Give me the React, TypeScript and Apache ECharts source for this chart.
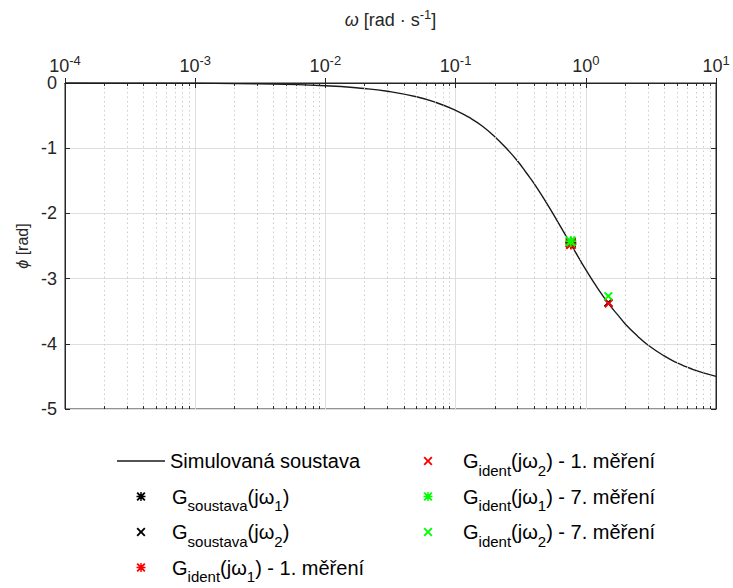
import React, { useEffect, useRef } from "react";
import * as echarts from "echarts";

// ---- data ----
const omega = [1e-4, 3e-4, 1e-3, 3e-3, 0.01, 0.02, 0.03, 0.05, 0.07, 0.1, 0.13, 0.16, 0.2, 0.25, 0.3, 0.35, 0.4, 0.5, 0.6, 0.7, 0.8, 0.9, 1.0, 1.2, 1.5, 1.8, 2.0, 2.5, 3.0, 4.0, 5.0, 6.0, 7.0, 8.0, 10.0];
const phase = [-0.0004, -0.0013, -0.0042, -0.0127, -0.042, -0.085, -0.127, -0.211, -0.295, -0.42, -0.54, -0.66, -0.825, -1.02, -1.2, -1.38, -1.54, -1.842, -2.107, -2.336, -2.535, -2.71, -2.862, -3.112, -3.388, -3.58, -3.691, -3.883, -4.018, -4.186, -4.29, -4.359, -4.409, -4.447, -4.5];

const sysW1 = [[0.766, -2.45]];
const sysW2 = [[1.49, -3.37]];
const ident1W1 = [[0.768, -2.47]];
const ident1W2 = [[1.5, -3.38]];
const ident7W1 = [[0.766, -2.43]];
const ident7W2 = [[1.49, -3.27]];

const seriesNames = [
  "Simulovaná soustava",
  "G_soustava(jω1)",
  "G_soustava(jω2)",
  "G_ident(jω1) - 1. měření",
  "G_ident(jω2) - 1. měření",
  "G_ident(jω1) - 7. měření",
  "G_ident(jω2) - 7. měření",
];

const minorMult = [2, 3, 4, 5, 6, 7, 8, 9];
const decades = [-4, -3, -2, -1, 0];

const X_PATH = "path://M0,1.5 L1.5,0 L5,3.5 L8.5,0 L10,1.5 L6.5,5 L10,8.5 L8.5,10 L5,6.5 L1.5,10 L0,8.5 L3.5,5 Z";
const STAR_PATH =
  "path://M0,1.5 L1.5,0 L5,3.5 L8.5,0 L10,1.5 L6.5,5 L10,8.5 L8.5,10 L5,6.5 L1.5,10 L0,8.5 L3.5,5 Z M4.2,0 L5.8,0 L5.8,10 L4.2,10 Z M0,4.2 L10,4.2 L10,5.8 L0,5.8 Z";

const FONT = "'Liberation Sans', Arial, Helvetica, sans-serif";
const LEG_FS = 20;
const SUB_FS = 15;

const richLegend = (gap: number) => ({
  gap: { width: gap, height: 1 },
  m: { fontSize: LEG_FS, lineHeight: 22, fontFamily: FONT, color: "#000", verticalAlign: "middle" },
  s: { fontSize: SUB_FS, lineHeight: 15, fontFamily: FONT, color: "#000", padding: [18.5, 0, 0, 0], verticalAlign: "middle" },
});

const legendText = (name: string): string => {
  const m = name.match(/^G_(\w+)\(jω(\d)\)(.*)$/);
  if (!m) return name;
  return `{gap|}{m|G}{s|${m[1]}}{m|(jω}{s|${m[2]}}{m|)${m[3]}}`;
};

export default function App() {
  const ref = useRef<HTMLDivElement>(null);
  useEffect(() => {
    if (!ref.current) return;
    const chart = echarts.init(ref.current, undefined, { renderer: "svg" });

    const minorVals: number[] = [];
    decades.forEach((d) => minorMult.forEach((k) => minorVals.push(k * Math.pow(10, d))));
    const tickLen = 0.045;
    const gridStyle = { color: "#cccccc", type: [1.5, 3], width: 1 };
    const tickStyle = { color: "#262626", type: "solid", width: 1 };
    const markData: any[] = [];
    minorVals.forEach((v) => {
      markData.push([{ coord: [v, 0], lineStyle: gridStyle }, { coord: [v, -5] }]);
    });
    minorVals.forEach((v) => {
      markData.push([{ coord: [v, 0], lineStyle: tickStyle }, { coord: [v, -tickLen] }]);
      markData.push([{ coord: [v, -5], lineStyle: tickStyle }, { coord: [v, -5 + tickLen] }]);
    });

    const curve = omega.map((w, i) => [w, phase[i]]);

    const scatter = (name: string, data: number[][], symbol: string, color: string, size: number) => ({
      name,
      type: "scatter",
      data,
      symbol,
      symbolSize: size,
      itemStyle: { color, opacity: 1 },
      z: 5,
    });

    const axisCommon = {
      axisLine: { show: true, lineStyle: { color: "#262626" } },
      axisTick: { show: true, inside: true, length: 5, lineStyle: { color: "#262626" } },
    };

    const markerLegend = (names: string[], left: number, top: number, gap: number) => ({
      data: names,
      orient: "vertical",
      left,
      top,
      padding: 0,
      itemWidth: 9,
      itemHeight: 9,
      itemGap: 2,
      formatter: legendText,
      textStyle: { rich: richLegend(gap) },
    });

    chart.setOption({
      animation: false,
      backgroundColor: "#fff",
      grid: { left: 65, right: 17, top: 83, bottom: 179, show: true, borderColor: "#262626", borderWidth: 1, backgroundColor: "transparent" },
      xAxis: [
        {
          type: "log",
          logBase: 10,
          min: 1e-4,
          max: 10,
          position: "top",
          name: "{i|ω} [rad · s{sup|-1}]",
          nameLocation: "middle",
          nameGap: 52,
          nameTextStyle: {
            fontFamily: FONT,
            fontSize: 18,
            color: "#262626",
            rich: {
              i: { fontFamily: FONT, fontSize: 18, fontStyle: "italic", color: "#262626" },
              sup: { fontFamily: FONT, fontSize: 13, color: "#262626", padding: [0, 0, 10, 0] },
            },
          },
          ...axisCommon,
          axisLabel: {
            margin: 6,
            color: "#262626",
            formatter: (v: number) => `{b|10}{sup|${Math.round(Math.log10(v))}}`,
            rich: {
              b: { fontFamily: FONT, fontSize: 18, color: "#262626" },
              sup: { fontFamily: FONT, fontSize: 13, color: "#262626", padding: [0, 0, 10, 0] },
            },
          },
          splitLine: { show: true, lineStyle: { color: "#dedede", width: 1 } },
        },
        {
          type: "log",
          logBase: 10,
          min: 1e-4,
          max: 10,
          position: "bottom",
          ...axisCommon,
          axisLabel: { show: false },
          splitLine: { show: false },
        },
      ],
      yAxis: [
        {
          type: "value",
          min: -5,
          max: 0,
          interval: 1,
          name: "{i|ϕ} [rad]",
          nameLocation: "middle",
          nameRotate: 90,
          nameGap: 30,
          nameTextStyle: {
            fontFamily: FONT,
            fontSize: 16,
            color: "#262626",
            rich: { i: { fontFamily: FONT, fontSize: 16, fontStyle: "italic", color: "#262626" } },
          },
          ...axisCommon,
          axisLabel: { fontFamily: FONT, fontSize: 18, color: "#262626", margin: 8 },
          splitLine: { show: true, lineStyle: { color: "#dedede", width: 1 } },
        },
        {
          type: "value",
          min: -5,
          max: 0,
          interval: 1,
          position: "right",
          ...axisCommon,
          axisLabel: { show: false },
          splitLine: { show: false },
        },
      ],
      legend: [
        {
          data: [{ name: seriesNames[0], icon: "rect" }],
          left: 117,
          top: 449,
          padding: 0,
          itemWidth: 48,
          itemHeight: 1.4,
          itemGap: 0,
          textStyle: { fontFamily: FONT, fontSize: LEG_FS, color: "#000", lineHeight: 24 },
        },
        markerLegend([seriesNames[1], seriesNames[2]], 136.5, 479.75, 21.5),
        markerLegend([seriesNames[3]], 136.5, 550.75, 21.5),
        markerLegend([seriesNames[4], seriesNames[5], seriesNames[6]], 423.5, 444.25, 25.5),
      ],
      series: [
        {
          name: seriesNames[0],
          type: "line",
          data: curve,
          symbol: "none",
          smooth: true,
          lineStyle: { color: "#1a1a1a", width: 1.4 },
          itemStyle: { color: "#1a1a1a" },
          z: 3,
          markLine: {
            silent: true,
            symbol: "none",
            label: { show: false },
            animation: false,
            data: markData,
          },
        },
        scatter(seriesNames[1], sysW1, STAR_PATH, "#000000", 11),
        scatter(seriesNames[2], sysW2, X_PATH, "#000000", 9),
        scatter(seriesNames[3], ident1W1, STAR_PATH, "#ff0000", 11),
        scatter(seriesNames[4], ident1W2, X_PATH, "#ff0000", 9),
        scatter(seriesNames[5], ident7W1, STAR_PATH, "#00ff00", 11),
        scatter(seriesNames[6], ident7W2, X_PATH, "#00ff00", 9),
      ],
    });
    return () => chart.dispose();
  }, []);
  return <div ref={ref} style={{ position: "fixed", left: 0, top: 0, width: 733, height: 588 }} />;
}
